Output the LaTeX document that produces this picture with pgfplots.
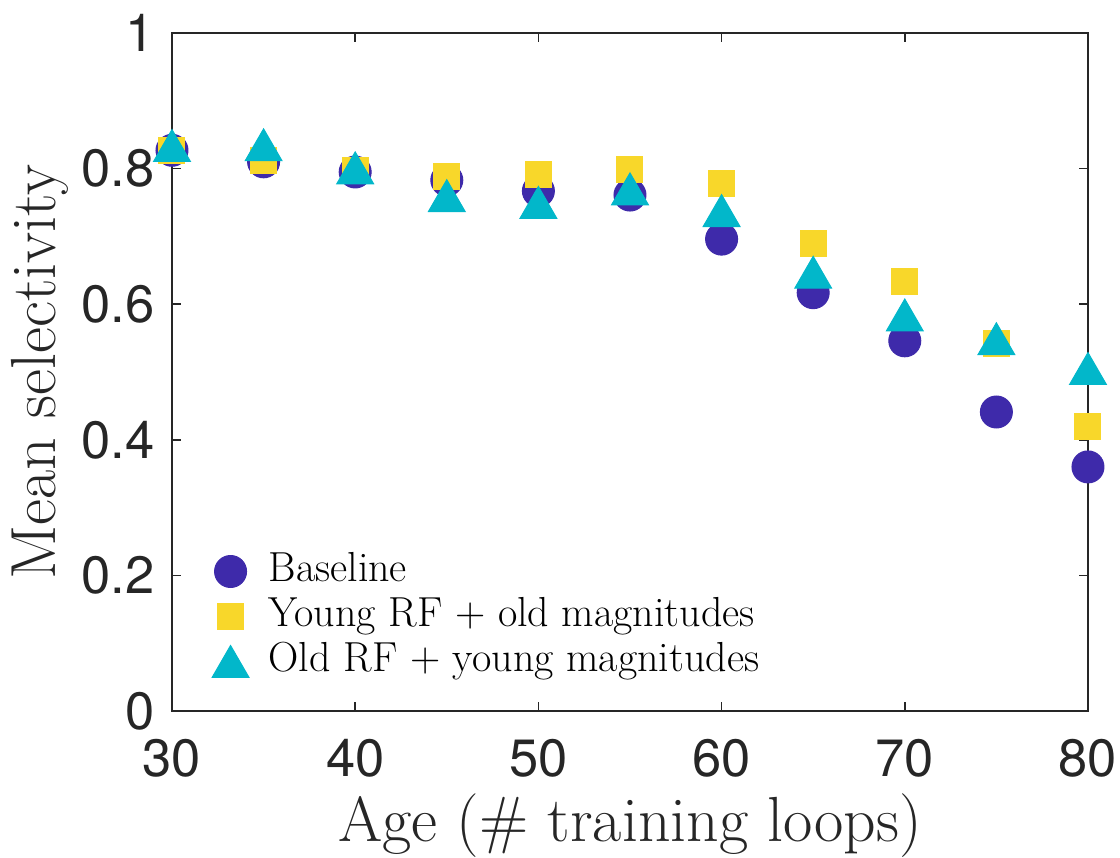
\documentclass[border=0pt]{standalone}
\usepackage{fontspec}
\newfontfamily\heros{TeX Gyre Heros}
\usepackage{pgfplots}
\pgfplotsset{compat=1.18}
\definecolor{base}{HTML}{3E2AAA}
\definecolor{young}{HTML}{F8D72A}
\definecolor{old}{HTML}{02B7CA}
\definecolor{axgray}{HTML}{262626}
\pgfplotsset{
    markleg/.style={legend image code/.code={
        \draw[##1] plot coordinates {(0.3cm,0cm)};
        \path (0cm,0cm) (0.6cm+4.5pt,0cm);}},
}
\begin{document}
\begin{tikzpicture}
\begin{axis}[
    scale only axis, width=366.4pt, height=271.2pt,
    xmin=30, xmax=80, ymin=0, ymax=1,
    xtick={30,40,...,80}, ytick={0,0.2,0.4,0.6,0.8,1},
    tick align=inside, major tick length=3.6pt,
    axis line style={axgray, line width=0.6pt},
    every tick/.append style={axgray, line width=0.6pt},
    /pgf/number format/assume math mode=true,
    tick label style={font=\heros\fontsize{21}{24}\selectfont, text=axgray, inner sep=0pt},
    xticklabel style={anchor=north, yshift=-11.2pt},
    yticklabel style={anchor=east, xshift=-6.8pt},
    xlabel={Age (\# training loops)},
    ylabel={Mean selectivity},
    label style={font=\fontsize{25.5}{30}\selectfont, text=axgray, inner sep=0pt},
    xlabel style={at={(axis description cs:0.5,-0.1932)}, anchor=base},
    ylabel style={at={(axis description cs:-0.1277,0.5)}, anchor=base},
    clip=false,
    legend cell align=left,
    legend style={draw=none, fill=none, inner sep=0pt, outer sep=0pt,
        at={(axis description cs:0.0401,0.0435)}, anchor=south west,
        font=\fontsize{16.8}{19}\selectfont, row sep=2pt,
        nodes={inner ysep=0pt, text height=12pt, text depth=4pt}},
]
\addplot[only marks, mark=*, mark size=6.4pt, mark options={draw=base, fill=base}, markleg] coordinates {
    (30,0.827)(35,0.810)(40,0.795)(45,0.783)(50,0.767)(55,0.761)(60,0.696)(65,0.617)(70,0.546)(75,0.441)(80,0.360)};
\addplot[only marks, mark=square*, mark size=5.2pt, mark options={draw=young, fill=young}, markleg] coordinates {
    (30,0.827)(35,0.812)(40,0.797)(45,0.789)(50,0.792)(55,0.798)(60,0.778)(65,0.690)(70,0.633)(75,0.542)(80,0.420)};
\addplot[only marks, mark=triangle*, mark size=8.5pt, mark options={draw=old, fill=old, yshift=-2.1pt}, markleg] coordinates {
    (30,0.834)(35,0.835)(40,0.801)(45,0.760)(50,0.750)(55,0.770)(60,0.738)(65,0.647)(70,0.584)(75,0.549)(80,0.505)};
\legend{Baseline, Young RF + old magnitudes, Old RF + young magnitudes}
\end{axis}
\path (-68.8pt,-57.6pt) rectangle (379.2pt,284.4pt);
\end{tikzpicture}
\end{document}
